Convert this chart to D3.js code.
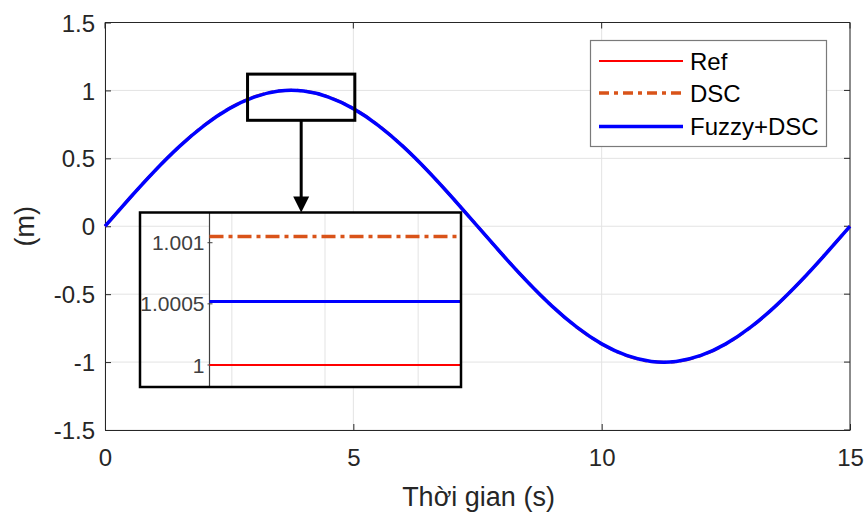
<!DOCTYPE html>
<html>
<head>
<meta charset="utf-8">
<script src="https://cdn.jsdelivr.net/npm/d3@7"></script>
<style>
  html, body { margin: 0; padding: 0; background: #fff; }
  svg { display: block; font-family: "Liberation Sans", Arial, Helvetica, sans-serif; }
</style>
</head>
<body>
<svg id="chart" width="868" height="513"></svg>
<script>
// ---- data ----
const time = [0, 0.5, 1, 1.5, 2, 2.5, 3, 3.5, 4, 4.5, 5, 5.5, 6, 6.5, 7, 7.5,
              8, 8.5, 9, 9.5, 10, 10.5, 11, 11.5, 12, 12.5, 13, 13.5, 14, 14.5, 15];
const refValues = [0, 0.208, 0.407, 0.588, 0.743, 0.866, 0.951, 0.995, 0.995, 0.951, 0.866,
                   0.743, 0.588, 0.407, 0.208, 0, -0.208, -0.407, -0.588, -0.743, -0.866,
                   -0.951, -0.995, -0.995, -0.951, -0.866, -0.743, -0.588, -0.407, -0.208, 0];
const dscValues = [0, 0.208, 0.407, 0.588, 0.744, 0.867, 0.952, 0.996, 0.996, 0.952, 0.867,
                   0.744, 0.588, 0.407, 0.208, 0, -0.208, -0.407, -0.588, -0.744, -0.867,
                   -0.952, -0.996, -0.996, -0.952, -0.867, -0.744, -0.588, -0.407, -0.208, 0];
const fuzzyValues = [0, 0.208, 0.407, 0.588, 0.743, 0.866, 0.951, 0.995, 0.995, 0.951, 0.866,
                     0.743, 0.588, 0.407, 0.208, 0, -0.208, -0.407, -0.588, -0.743, -0.866,
                     -0.951, -0.995, -0.995, -0.951, -0.866, -0.743, -0.588, -0.407, -0.208, 0];
const seriesNames = ["Ref", "DSC", "Fuzzy+DSC"];
const xTicks = [0, 5, 10, 15];
const yTicks = [-1.5, -1, -0.5, 0, 0.5, 1, 1.5];
const xLabel = "Thời gian (s)";
const yLabel = "(m)";

// zoom window on the main chart
const zoomWindowT = [2.87, 5.03];
const zoomWindowY = [0.78, 1.12];

// inset (magnified) data
const insetTime = [3.7476, 3.76, 3.77, 3.7746];
const insetRef = [1.0, 1.0, 1.0, 1.0];
const insetDsc = [1.00105, 1.00105, 1.00105, 1.00105];
const insetFuzzy = [1.00052, 1.00052, 1.00052, 1.00052];
const insetXGrid = [3.75, 3.76, 3.77];
const insetYTicks = [1, 1.0005, 1.001];
const insetYTickLabels = ["1", "1.0005", "1.001"];

// ---- styles ----
const colors = { ref: "#ff0000", dsc: "#d95319", fuzzy: "#0000ff" };
const axisColor = "#262626";
const gridColor = "#e3e3e3";

const svg = d3.select("#chart");
const M = { left: 105, right: 850, top: 22.5, bottom: 430 };

const x = d3.scaleLinear().domain([0, 15]).range([M.left, M.right]);
const y = d3.scaleLinear().domain([-1.5, 1.5]).range([M.bottom, M.top]);

// grid
const grid = svg.append("g");
grid.selectAll(".vg").data(xTicks).join("line")
  .attr("x1", d => x(d)).attr("x2", d => x(d))
  .attr("y1", M.top).attr("y2", M.bottom)
  .attr("stroke", gridColor).attr("stroke-width", 1);
grid.selectAll(".hg").data(yTicks).join("line")
  .attr("x1", M.left).attr("x2", M.right)
  .attr("y1", d => y(d)).attr("y2", d => y(d))
  .attr("stroke", gridColor).attr("stroke-width", 1);

// axes
const xAxis = d3.axisBottom(x).tickValues(xTicks).tickSizeInner(-6).tickSizeOuter(0).tickPadding(19)
  .tickFormat(d3.format("d"));
const yAxis = d3.axisLeft(y).tickValues(yTicks).tickSizeInner(-6).tickSizeOuter(0).tickPadding(10)
  .tickFormat(d => String(d));
const gx = svg.append("g").attr("transform", `translate(0,${M.bottom})`).call(xAxis);
const gy = svg.append("g").attr("transform", `translate(${M.left},0)`).call(yAxis);
[gx, gy].forEach(g => {
  g.selectAll("path").attr("stroke", axisColor).attr("stroke-width", 1);
  g.selectAll("line").attr("stroke", axisColor).attr("stroke-width", 1);
  g.selectAll("text").attr("fill", axisColor).attr("font-size", 24)
    .attr("font-family", "'Liberation Sans', Arial, sans-serif");
});
gx.selectAll("text").attr("dy", "0.71em");
gy.selectAll("text").attr("dy", "0.36em");
// box (top & right)
svg.append("line").attr("x1", M.left).attr("x2", M.right).attr("y1", M.top).attr("y2", M.top)
  .attr("stroke", axisColor);
svg.append("line").attr("x1", M.right).attr("x2", M.right).attr("y1", M.top).attr("y2", M.bottom)
  .attr("stroke", axisColor);
// top/right ticks
svg.selectAll(".tt").data(xTicks).join("line")
  .attr("x1", d => x(d)).attr("x2", d => x(d)).attr("y1", M.top).attr("y2", M.top + 6).attr("stroke", axisColor);
svg.selectAll(".rt").data(yTicks).join("line")
  .attr("x1", M.right).attr("x2", M.right - 6).attr("y1", d => y(d)).attr("y2", d => y(d)).attr("stroke", axisColor);

// labels
svg.append("text").attr("x", (M.left + M.right) / 2 + 1).attr("y", 506)
  .attr("text-anchor", "middle").attr("font-size", 27).attr("fill", axisColor).text(xLabel);
svg.append("text").attr("transform", `translate(34,${(M.top + M.bottom) / 2}) rotate(-90)`)
  .attr("text-anchor", "middle").attr("font-size", 27).attr("fill", axisColor).text(yLabel);

// lines
const line = d3.line().x(d => x(d[0])).y(d => y(d[1])).curve(d3.curveNatural);
const zipT = vals => time.map((t, i) => [t, vals[i]]);
svg.append("path").attr("d", line(zipT(refValues))).attr("fill", "none")
  .attr("stroke", colors.ref).attr("stroke-width", 2);
svg.append("path").attr("d", line(zipT(dscValues))).attr("fill", "none")
  .attr("stroke", colors.dsc).attr("stroke-width", 3).attr("stroke-dasharray", "14,5,4,5");
svg.append("path").attr("d", line(zipT(fuzzyValues))).attr("fill", "none")
  .attr("stroke", colors.fuzzy).attr("stroke-width", 3.5);

// zoom box
svg.append("rect")
  .attr("x", x(zoomWindowT[0])).attr("y", y(zoomWindowY[1]))
  .attr("width", x(zoomWindowT[1]) - x(zoomWindowT[0]))
  .attr("height", y(zoomWindowY[0]) - y(zoomWindowY[1]))
  .attr("fill", "none").attr("stroke", "#000").attr("stroke-width", 3);

// inset
const I = { boxL: 140, boxR: 461, boxT: 212.5, boxB: 387, left: 209.5, right: 461 };
const ix = d3.scaleLinear().domain([insetTime[0], insetTime[insetTime.length - 1]]).range([I.left, I.right]);
const iy = d3.scaleLinear().domain([0.99982, 1.001247]).range([I.boxB, I.boxT]);

// arrow
const ax = (x(zoomWindowT[0]) + x(zoomWindowT[1])) / 2;
svg.append("line").attr("x1", ax).attr("x2", ax).attr("y1", y(zoomWindowY[0])).attr("y2", I.boxT - 14)
  .attr("stroke", "#000").attr("stroke-width", 3);
svg.append("path")
  .attr("d", `M${ax - 8},${I.boxT - 16} L${ax + 8},${I.boxT - 16} L${ax},${I.boxT} Z`)
  .attr("fill", "#000");

const inset = svg.append("g");
inset.append("rect").attr("x", I.left).attr("y", I.boxT).attr("width", I.right - I.left)
  .attr("height", I.boxB - I.boxT).attr("fill", "#fff");
inset.selectAll(".ivg").data(insetXGrid).join("line")
  .attr("x1", d => ix(d)).attr("x2", d => ix(d)).attr("y1", I.boxT).attr("y2", I.boxB)
  .attr("stroke", gridColor).attr("stroke-width", 1);
inset.append("line").attr("x1", I.left).attr("x2", I.left).attr("y1", I.boxT).attr("y2", I.boxB)
  .attr("stroke", "#404040").attr("stroke-width", 1.2);
inset.selectAll(".iyt").data(insetYTicks).join("line")
  .attr("x1", I.left - 2).attr("x2", I.left + 3).attr("y1", d => iy(d)).attr("y2", d => iy(d))
  .attr("stroke", "#404040");
inset.selectAll(".iyl").data(insetYTicks).join("text")
  .attr("x", I.left - 5).attr("y", d => iy(d)).attr("dy", "0.36em")
  .attr("text-anchor", "end").attr("font-size", 21).attr("fill", "#404040")
  .text((d, i) => insetYTickLabels[i]);
const iline = d3.line().x(d => ix(d[0])).y(d => iy(d[1]));
const zipI = vals => insetTime.map((t, i) => [t, vals[i]]);
inset.append("path").attr("d", iline(zipI(insetRef))).attr("fill", "none")
  .attr("stroke", colors.ref).attr("stroke-width", 2);
inset.append("path").attr("d", iline(zipI(insetDsc))).attr("fill", "none")
  .attr("stroke", colors.dsc).attr("stroke-width", 3.5).attr("stroke-dasharray", "14,5,4,5");
inset.append("path").attr("d", iline(zipI(insetFuzzy))).attr("fill", "none")
  .attr("stroke", colors.fuzzy).attr("stroke-width", 3);
inset.append("rect").attr("x", I.boxL).attr("y", I.boxT).attr("width", I.boxR - I.boxL)
  .attr("height", I.boxB - I.boxT).attr("fill", "none").attr("stroke", "#000").attr("stroke-width", 2.5);

// legend
const L = { x: 590.5, y: 40.5, w: 236, h: 106 };
const lg = svg.append("g");
lg.append("rect").attr("x", L.x).attr("y", L.y).attr("width", L.w).attr("height", L.h)
  .attr("fill", "#fff").attr("stroke", "#7a7a7a").attr("stroke-width", 1.2);
const legendItems = [
  { name: seriesNames[0], color: colors.ref, w: 2, dash: null },
  { name: seriesNames[1], color: colors.dsc, w: 3.5, dash: "10,5,4,5" },
  { name: seriesNames[2], color: colors.fuzzy, w: 3.5, dash: null }
];
const rowY = [61, 93, 126.5];
legendItems.forEach((it, i) => {
  lg.append("line").attr("x1", 599).attr("x2", 683).attr("y1", rowY[i]).attr("y2", rowY[i])
    .attr("stroke", it.color).attr("stroke-width", it.w).attr("stroke-dasharray", it.dash);
  lg.append("text").attr("x", 690).attr("y", rowY[i]).attr("dy", "0.36em")
    .attr("font-size", 24).attr("fill", "#000").text(it.name);
});
</script>
</body>
</html>
